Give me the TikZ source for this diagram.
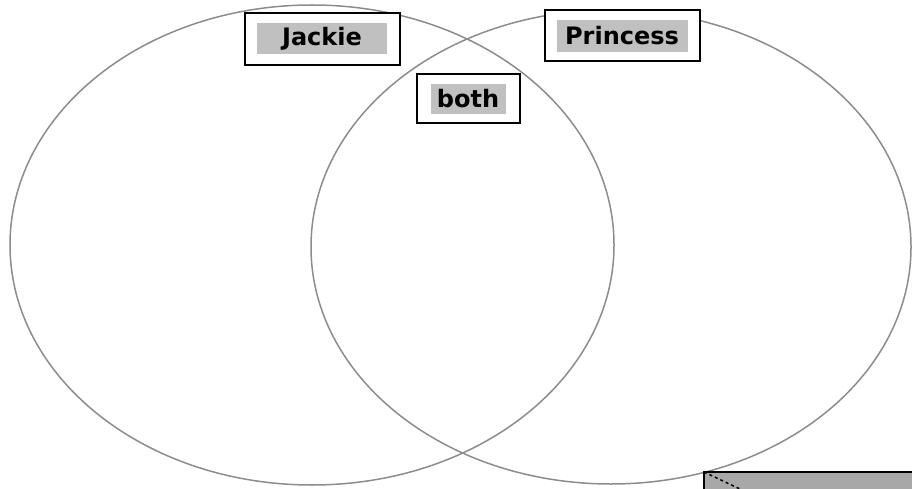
\documentclass[tikz,border=0pt]{standalone}
\usepackage{fontspec}
\setmainfont{DejaVu Sans}
\usetikzlibrary{positioning}
\definecolor{ringgray}{RGB}{140,140,140}
\definecolor{tagfill}{RGB}{192,192,192}
\definecolor{tabfill}{RGB}{168,168,168}

\begin{document}
\begin{tikzpicture}[x=1pt,y=-1pt,
  ring/.style={draw=ringgray,line width=1.5pt},
  frame/.style={draw=black,line width=2pt,fill=white,inner sep=0pt},
  tag/.style={fill=tagfill,inner sep=0pt,font=\bfseries\fontsize{24}{26}\selectfont}
]
\useasboundingbox (0,0) rectangle (912,489);
% the two sets
\draw[ring] (312,245) ellipse [x radius=302,y radius=240];
\draw[ring] (611,247) ellipse [x radius=300,y radius=237];
% labels
\node[frame,minimum width=155,minimum height=52] (jackieframe) at (322,39) {};
\node[tag,minimum width=130,minimum height=31] (jackie) at (322,39) {Jackie};
\node[frame,minimum width=155,minimum height=51] (princessframe) at (622,36) {};
\node[tag,minimum width=131,minimum height=32] (princess) at (622,36) {Princess};
\node[frame,minimum width=103,minimum height=49] (bothframe) at (468,99) {};
\node[tag,minimum width=75,minimum height=30] (both) at (468,99) {both};
% cut-off tab in the corner
\fill[tabfill] (704,472) rectangle (912,489);
\draw[line width=2pt] (704,489) -- (704,472) -- (912,472);
\draw[dashed,line width=1.5pt] (704,472) -- (740,489);
\end{tikzpicture}
\end{document}
